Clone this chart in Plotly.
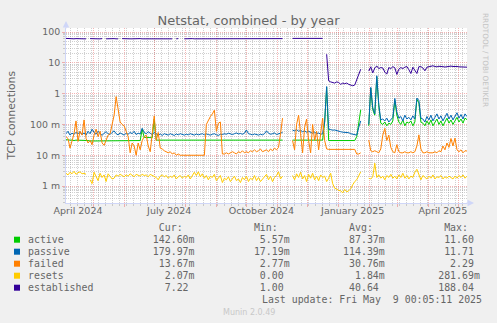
import plotly.graph_objects as go
import pandas as pd

# ---------------- data ----------------
start = pd.Timestamp("2024-04-04 00:05")
end = pd.Timestamp("2025-05-09 00:05")
dates = pd.date_range(start, periods=201, freq="2D")

series_names = ["active", "passive", "failed", "resets", "established"]
series_colors = ["#00CC00", "#0066B3", "#FF8000", "#FFCC00", "#330099"]

active = [
    0.032, 0.031, 0.031, 0.031, 0.030, 0.031, 0.031, 0.030, 0.030, 0.030,
    0.030, 0.030, 0.029, 0.029, 0.029, 0.029, 0.029, 0.029, 0.029, 0.029,
    0.029, 0.029, 0.030, 0.030, 0.030, 0.030, 0.030, 0.030, 0.030, 0.030,
    0.030, 0.030, 0.030, 0.030, 0.030, 0.030, 0.030, 0.030, 0.070, 0.038,
    0.038, 0.037, 0.038, 0.037, 0.150, 0.031, 0.031, 0.031, 0.031, 0.031,
    0.031, 0.031, 0.031, 0.030, 0.031, 0.031, 0.031, 0.031, 0.031, 0.031,
    0.031, 0.031, 0.031, 0.031, 0.031, 0.031, 0.031, 0.031, 0.031, 0.031,
    0.031, 0.031, 0.031, 0.031, 0.031, 0.031, 0.031, 0.031, 0.031, 0.031,
    0.031, 0.031, 0.031, 0.031, 0.031, 0.031, 0.031, 0.031, 0.030, 0.031,
    0.031, 0.031, 0.031, 0.031, 0.031, 0.030, 0.031, 0.031, 0.031, 0.031,
    0.031, 0.031, 0.031, 0.031, 0.031, 0.031, 0.031, 0.031, 0.031, None,
    None, None, None, 0.031, 0.031, 0.031, 0.031, 0.031, 0.031, 0.031,
    0.031, 0.031, 0.031, 0.031, 0.031, 0.031, 0.031, 0.031, 0.031, 0.120,
    1.600, 0.030, 0.030, 0.030, 0.030, 0.030, 0.030, 0.030, 0.030, 0.030,
    0.030, 0.030, 0.030, 0.030, 0.030, 0.040, 0.110, 0.300, None, None,
    None, 0.090, 1.500, 0.300, 0.200, 3.500, 0.400, 0.110, 0.100, 0.120,
    0.090, 0.110, 0.100, 0.130, 0.600, 0.200, 0.120, 0.100, 0.140, 0.090,
    0.120, 0.110, 0.130, 0.090, 0.120, 0.650, 0.500, 0.120, 0.110, 0.090,
    0.130, 0.100, 0.140, 0.090, 0.120, 0.150, 0.100, 0.130, 0.090, 0.120,
    0.160, 0.110, 0.140, 0.100, 0.130, 0.170, 0.120, 0.150, 0.110, 0.160,
    0.143,
]

passive = [
    0.050, 0.060, 0.045, 0.052, 0.048, 0.055, 0.050, 0.058, 0.047, 0.053,
    0.045, 0.060, 0.050, 0.070, 0.055, 0.048, 0.060, 0.050, 0.044, 0.052,
    0.058, 0.050, 0.047, 0.055, 0.062, 0.050, 0.046, 0.053, 0.049, 0.045,
    0.052, 0.048, 0.055, 0.050, 0.060, 0.047, 0.052, 0.049, 0.075, 0.055,
    0.050, 0.058, 0.052, 0.047, 0.055, 0.050, 0.045, 0.049, 0.044, 0.050,
    0.048, 0.045, 0.050, 0.047, 0.044, 0.049, 0.046, 0.050, 0.047, 0.045,
    0.048, 0.046, 0.050, 0.047, 0.045, 0.049, 0.046, 0.048, 0.050, 0.046,
    0.049, 0.047, 0.045, 0.048, 0.050, 0.046, 0.044, 0.048, 0.047, 0.050,
    0.048, 0.052, 0.049, 0.047, 0.050, 0.053, 0.049, 0.051, 0.048, 0.052,
    0.066, 0.050, 0.048, 0.046, 0.049, 0.047, 0.045, 0.048, 0.046, 0.050,
    0.062, 0.052, 0.048, 0.050, 0.053, 0.047, 0.050, 0.052, 0.055, None,
    None, None, None, 0.065, 0.062, 0.068, 0.060, 0.064, 0.058, 0.062,
    0.056, 0.060, 0.055, 0.052, 0.056, 0.050, 0.053, 0.048, 0.050, 0.120,
    1.700, 0.070, 0.068, 0.065, 0.066, 0.062, 0.060, 0.058, 0.056, 0.055,
    0.052, 0.054, 0.050, 0.048, 0.046, 0.045, 0.080, 0.130, None, None,
    None, 0.100, 1.600, 0.350, 0.220, 3.800, 0.450, 0.140, 0.150, 0.130,
    0.160, 0.120, 0.140, 0.170, 0.700, 0.250, 0.160, 0.180, 0.130, 0.200,
    0.150, 0.170, 0.140, 0.190, 0.150, 0.720, 0.600, 0.160, 0.150, 0.120,
    0.180, 0.140, 0.200, 0.130, 0.170, 0.220, 0.150, 0.190, 0.130, 0.170,
    0.230, 0.150, 0.200, 0.140, 0.180, 0.240, 0.160, 0.210, 0.150, 0.220,
    0.180,
]

failed = [
    0.040, 0.035, 0.017, 0.030, 0.050, 0.130, 0.028, 0.060, 0.045, 0.140,
    0.035, 0.025, 0.030, 0.022, 0.045, 0.070, 0.040, 0.060, 0.025, 0.021,
    0.030, 0.045, 0.050, 0.090, 0.200, 0.800, 0.250, 0.120, 0.100, 0.090,
    0.060, 0.040, 0.012, 0.025, 0.020, 0.010, 0.025, 0.015, 0.030, 0.040,
    0.045, 0.020, 0.013, 0.060, 0.190, 0.030, 0.055, 0.017, 0.016, 0.014,
    0.013, 0.012, 0.013, 0.011, 0.012, 0.010, 0.011, 0.010, 0.010, 0.010,
    0.010, 0.010, 0.010, 0.010, 0.010, 0.010, 0.010, 0.010, 0.010, 0.010,
    0.100, 0.140, 0.180, 0.220, 0.290, 0.060, 0.110, 0.120, 0.011, 0.011,
    0.012, 0.011, 0.012, 0.013, 0.012, 0.011, 0.013, 0.012, 0.014, 0.012,
    0.013, 0.012, 0.014, 0.013, 0.015, 0.013, 0.014, 0.016, 0.013, 0.014,
    0.015, 0.013, 0.016, 0.014, 0.017, 0.015, 0.018, 0.050, 0.160, None,
    None, None, None, 0.030, 0.015, 0.100, 0.200, 0.050, 0.012, 0.080,
    0.150, 0.030, 0.012, 0.100, 0.030, 0.060, 0.015, 0.050, 0.160, 0.030,
    0.016, 0.0155, 0.0155, 0.0155, 0.0155, 0.0155, 0.0155, 0.0155, 0.0155, 0.0155,
    0.0155, 0.0155, 0.0155, 0.0155, 0.0155, 0.011, 0.011, 0.012, None, None,
    None, 0.031, 0.014, 0.013, 0.014, 0.013, 0.012, 0.016, 0.045, 0.074,
    0.030, 0.045, 0.018, 0.013, 0.012, 0.022, 0.013, 0.012, 0.012, 0.013,
    0.012, 0.012, 0.013, 0.012, 0.013, 0.020, 0.046, 0.016, 0.012, 0.012,
    0.013, 0.012, 0.012, 0.012, 0.013, 0.012, 0.014, 0.013, 0.020, 0.015,
    0.025, 0.018, 0.035, 0.020, 0.036, 0.015, 0.013, 0.015, 0.012, 0.014,
    0.0137,
]

resets = [
    0.0026, 0.0023, 0.0028, 0.0025, 0.0030, 0.0024, 0.0027, 0.0029, 0.0025, 0.0026,
    0.0024, None, 0.0016, 0.0012, 0.0028, 0.0020, 0.0015, 0.0026, 0.0019, 0.0023,
    0.0014, 0.0025, 0.0020, 0.0017, 0.0018, 0.0023, 0.0021, 0.0024, 0.0022, 0.0020,
    0.0023, 0.0021, 0.0025, 0.0022, 0.0020, 0.0024, 0.0023, 0.0021, 0.0024, 0.0022,
    0.0023, 0.0020, 0.0024, 0.0022, 0.0021, 0.0019, 0.0016, 0.0021, 0.0023, 0.0020,
    0.0022, 0.0018, 0.0021, 0.0019, 0.0023, 0.0017, 0.0020, 0.0022, 0.0018, 0.0021,
    0.0019, 0.0023, 0.0017, 0.0021, 0.0028, 0.0022, 0.0029, 0.0020, 0.0025, 0.0018,
    0.0022, 0.0016, 0.0021, 0.0019, 0.0024, 0.0015, 0.0019, 0.0022, 0.0013, 0.0018,
    0.0016, 0.0020, 0.0014, 0.0018, 0.0021, 0.0015, 0.0017, 0.0013, 0.0019, 0.0016,
    0.0021, 0.0014, 0.0018, 0.0016, 0.0022, 0.0015, 0.0019, 0.0014, 0.0017, 0.0021,
    0.0024, 0.0016, 0.0021, 0.0014, 0.0019, 0.0022, 0.0029, 0.0017, 0.0021, None,
    None, None, None, 0.0022, 0.0016, 0.0025, 0.0019, 0.0028, 0.0017, 0.0022,
    0.0014, 0.0024, 0.0018, 0.0026, 0.0016, 0.0021, 0.0015, 0.0023, 0.0019, 0.0021,
    0.0014, 0.0018, 0.0026, 0.0012, 0.00085, 0.0008, 0.00072, 0.0007, 0.0006, 0.00078,
    0.00065, 0.0007, 0.00082, 0.0011, 0.0014, 0.0016, 0.0021, 0.0029, None, None,
    None, 0.0018, 0.0017, 0.0020, 0.0055, 0.0019, 0.0023, 0.0018, 0.0021, 0.0016,
    0.0022, 0.0019, 0.0024, 0.0018, 0.0021, 0.0017, 0.0023, 0.0019, 0.0026, 0.0018,
    0.0022, 0.0017, 0.0021, 0.0019, 0.0028, 0.0035, 0.0024, 0.0016, 0.0022, 0.0019,
    0.0017, 0.0021, 0.0018, 0.0023, 0.0017, 0.0020, 0.0019, 0.0022, 0.0017, 0.0020,
    0.0018, 0.0021, 0.0019, 0.0017, 0.0021, 0.0018, 0.0022, 0.0019, 0.0023, 0.0018,
    0.0021,
]

established = [
    62, 61, 60, 61, 60, 61, 60, 60, 61, 60,
    60, None, 61, 60, 60, 61, 60, 60, 61, None,
    60, 61, 60, 60, 61, 60, 60, None, 61, 60,
    60, 61, 60, 60, 61, 60, 60, 61, 60, 60,
    61, 60, 60, 61, 60, 60, 61, 60, 60, 61,
    60, 60, 61, 60, None, 60, 61, None, None, 60,
    61, 60, 60, 61, 60, 60, 61, 60, 60, 61,
    60, 60, 61, 60, 60, 61, 60, 60, 61, 60,
    60, 61, 60, 60, 61, 60, 60, 61, 60, 60,
    61, 60, 60, 61, 60, 60, 61, 60, 60, 61,
    60, 60, 61, 60, 60, 61, 60, 60, 61, None,
    None, None, None, 62, 62, 61, 62, 62, 61, 62,
    62, 61, 62, 62, 61, 62, 62, 61, 62, None,
    19, 2.6, 2.4, 2.3, 2.2, 2.4, 2.3, 2.0, 2.2, 2.1,
    2.2, 2.0, 1.9, 1.8, 1.9, 2.7, 4.0, 6.2, None, None,
    None, 5.4, 7.4, 4.7, 6.8, 7.9, 6.5, 7.0, 6.8, 5.0,
    4.3, 7.0, 6.5, 7.5, 6.9, 4.2, 6.2, 7.0, 6.5, 7.2,
    7.6, 6.0, 4.5, 7.2, 5.5, 4.5, 7.5, 7.5, 6.8, 5.5,
    7.2, 7.5, 7.8, 8.0, 7.6, 7.4, 7.7, 7.8, 7.5, 7.3,
    7.5, 7.8, 7.8, 7.6, 7.7, 7.6, 7.4, 7.3, 7.4, 7.1,
    7.22,
]

# legend statistics (as printed)
stat_cur = ["142.60m", "179.97m", "13.67m", "2.07m", "7.22"]
stat_min = ["5.57m", "17.19m", "2.77m", "0.00", "1.00"]
stat_avg = ["87.37m", "114.39m", "30.76m", "1.84m", "40.64"]
stat_max = ["11.60", "11.71", "2.29", "281.69m", "188.04"]
stat_headers = ["Cur:", "Min:", "Avg:", "Max:"]

# axis labels
y_tick_vals = [1e-3, 1e-2, 1e-1, 1, 10, 100]
y_tick_text = ["1 m", "10 m", "100 m", "1", "10", "100"]
x_label_dates = ["2024-04-16", "2024-07-16", "2024-10-16", "2025-01-15", "2025-04-15"]
x_label_text = ["April 2024", "July 2024", "October 2024", "January 2025", "April 2025"]

# ---------------- style ----------------
W, H = 497, 323
ML, MR, MT, MB = 66, 30, 28, 120
PW, PH = W - ML - MR, H - MT - MB
FONT = "#666666"
AXIS = "#CFD6F8"
GRID = "rgba(150,150,150,0.45)"
MGRID = "rgba(230,90,90,0.45)"
DASH = "1px,1px"


def px_x(px):
    return (px - ML) / PW


def px_y(py):
    return (MT + PH - py) / PH


month_starts = pd.date_range("2024-05-01", "2025-05-01", freq="MS")
week_starts = pd.date_range("2024-04-08", end, freq="7D")
minor_y = [m * 10.0 ** e for e in range(-4, 2) for m in range(2, 10)]
minor_y = [v for v in minor_y if 10 ** -3.55 < v < 10 ** 2.13]

fig = go.Figure()
for name, vals, col in zip(series_names, [active, passive, failed, resets, established], series_colors):
    fig.add_trace(go.Scatter(x=dates, y=vals, mode="lines", name=name,
                             line=dict(color=col, width=1), connectgaps=False,
                             showlegend=False, hoverinfo="skip"))
# carrier trace for the label axis
fig.add_trace(go.Scatter(x=[], y=[], xaxis="x2", yaxis="y", showlegend=False, hoverinfo="skip"))

fig.update_layout(
    width=W, height=H, margin=dict(l=ML, r=MR, t=MT, b=MB),
    paper_bgcolor="#F0F0F0", plot_bgcolor="#FFFFFF",
    font=dict(family="DejaVu Sans", color=FONT),
    title=dict(text="Netstat, combined - by year", x=0.5, xanchor="center",
               y=1 - 20 / H, yanchor="middle",
               font=dict(family="DejaVu Sans", size=13, color=FONT)),
    xaxis=dict(type="date", range=[start, end], tickmode="array",
               tickvals=month_starts, ticktext=[""] * len(month_starts),
               showgrid=True, gridcolor=MGRID, griddash=DASH, gridwidth=1,
               ticks="outside", ticklen=3, tickcolor=MGRID,
               showline=True, linecolor=AXIS, linewidth=1, zeroline=False,
               automargin=False,
               minor=dict(tickmode="array", tickvals=week_starts, showgrid=True,
                          gridcolor=GRID, griddash=DASH, gridwidth=1,
                          ticks="outside", ticklen=2, tickcolor=GRID)),
    xaxis2=dict(type="date", overlaying="x", anchor="y", side="bottom",
                range=[start, end], tickmode="array", tickvals=x_label_dates,
                ticktext=x_label_text, showgrid=False, ticks="", showline=False,
                zeroline=False, automargin=False,
                tickfont=dict(family="DejaVu Sans", size=9.5, color=FONT)),
    yaxis=dict(type="log", range=[-3.55, 2.13], tickmode="array",
               tickvals=y_tick_vals, ticktext=y_tick_text,
               showgrid=True, gridcolor=MGRID, griddash=DASH, gridwidth=1,
               ticks="outside", ticklen=3, tickcolor=MGRID,
               showline=True, linecolor=AXIS, linewidth=1, zeroline=False,
               automargin=False,
               tickfont=dict(family="DejaVu Sans", size=9.4, color=FONT),
               minor=dict(tickmode="array", tickvals=minor_y, showgrid=True,
                          gridcolor=GRID, griddash=DASH, gridwidth=1,
                          ticks="outside", ticklen=2, tickcolor=GRID)),
)

ann = []
# y axis title
ann.append(dict(text="TCP connections", xref="paper", yref="paper",
                x=px_x(10.5), y=px_y(115), textangle=-90, showarrow=False,
                xanchor="center", yanchor="middle",
                font=dict(family="DejaVu Sans", size=10.8, color=FONT)))
# vertical watermark
ann.append(dict(text="RRDTOOL / TOBI OETIKER", xref="paper", yref="paper",
                x=px_x(486), y=px_y(60), textangle=90, showarrow=False,
                xanchor="center", yanchor="middle",
                font=dict(family="DejaVu Sans", size=7.3, color="#C4C4C4")))
# axis arrows
ann.append(dict(text="", xref="paper", yref="paper", x=0, y=px_y(21),
                ax=0, ay=9, showarrow=True, arrowhead=2, arrowsize=1.3,
                arrowwidth=1, arrowcolor=AXIS, standoff=0))
ann.append(dict(text="", xref="paper", yref="paper", x=px_x(474), y=0,
                ax=-9, ay=0, showarrow=True, arrowhead=2, arrowsize=1.3,
                arrowwidth=1, arrowcolor=AXIS, standoff=0))

NB = "\u00a0"
MONO = dict(family="DejaVu Sans Mono", size=9.9, color=FONT)
label_x = px_x(25.7)
header = " " * 12 + "".join(h.rjust(14) + "  " for h in stat_headers)
ann.append(dict(text=header.replace(" ", NB), xref="paper", yref="paper",
                x=label_x, y=px_y(227.3), xanchor="left", yanchor="middle",
                showarrow=False, font=MONO))


def unit(v):
    return v if v.endswith("m") else v + " "


row_y = [239.7, 251.7, 263.7, 275.7, 287.7]
shapes = []
for k, name in enumerate(series_names):
    row = name.ljust(12) + "".join(unit(v).rjust(16) for v in
                                   (stat_cur[k], stat_min[k], stat_avg[k], stat_max[k]))
    ann.append(dict(text=row.replace(" ", NB), xref="paper", yref="paper",
                    x=label_x, y=px_y(row_y[k]), xanchor="left", yanchor="middle",
                    showarrow=False, font=MONO))
    shapes.append(dict(type="rect", xref="paper", yref="paper",
                       x0=px_x(14), x1=px_x(20), y0=px_y(row_y[k] + 3), y1=px_y(row_y[k] - 3),
                       fillcolor=series_colors[k], line=dict(width=0)))

ann.append(dict(text="Last update: Fri May  9 00:05:11 2025".replace(" ", NB),
                xref="paper", yref="paper", x=px_x(483.7), y=px_y(299.7),
                xanchor="right", yanchor="middle", showarrow=False, font=MONO))
ann.append(dict(text="Munin 2.0.49", xref="paper", yref="paper",
                x=px_x(248.8), y=px_y(312.3), xanchor="center", yanchor="middle",
                showarrow=False, font=dict(family="DejaVu Sans", size=8, color="#C8C8C8")))

fig.update_layout(annotations=ann, shapes=shapes)
fig.write_html("out.html")
